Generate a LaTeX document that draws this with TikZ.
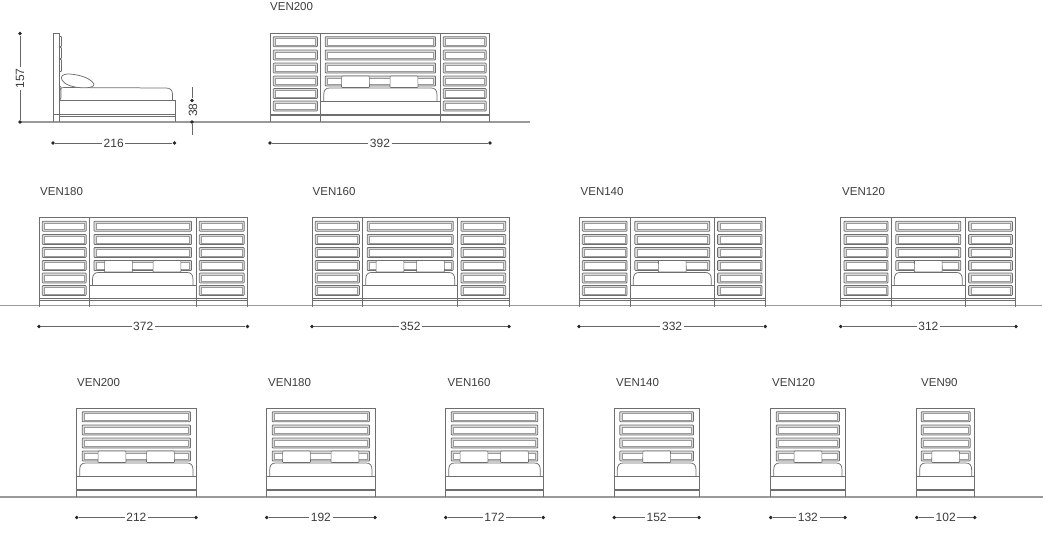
\documentclass[tikz,border=0pt]{standalone}
\usepackage{fontspec}
\setmainfont{Liberation Sans}
\definecolor{ln}{HTML}{6E6E6E}
\definecolor{lnl}{HTML}{9A9A9A}
\definecolor{txt}{HTML}{3C3C3C}
\tikzset{
  frameline/.style={draw=ln,line width=0.75pt},
  groundline/.style={draw=lnl,line width=1.2pt},
  slatout/.style={draw=ln,line width=0.8pt,rounded corners=0.8pt,fill=black!14},
  slatin/.style={draw=lnl,line width=0.4pt,fill=white},
  pillowbox/.style={draw=ln,line width=0.6pt,fill=white,rounded corners=0.8pt},
  dimdot/.style={circle,fill=black!85,inner sep=0pt,minimum size=3.8pt},
  dimtext/.style={fill=white,inner sep=1.5pt,font=\fontsize{12}{13}\selectfont,text=txt},
  dimrule/.style={draw=black!60,line width=0.8pt},
  modeltext/.style={anchor=west,inner sep=0pt,font=\fontsize{11.5}{13}\selectfont,text=txt},
}
\newcommand\vbSlat[4]{%
  \draw[slatout] (#1,#2) rectangle (#3,#4);
  \draw[slatin] ({#1+2.2},{#2+1.8}) rectangle ({#3-2.2},{#4-1.8});
}
\newcommand\vbPanel[3]{%
  \foreach \o in {3.7,17,30,43,55.5,68}{%
    \vbSlat{#1+3.3}{#3+\o}{#2-3.3}{#3+\o+10}
  }
}
% xl xr top slatinset pillow-centres(list)
\newcommand\vbCentre[5]{%
  \foreach \o in {3.7,17,30,43}{%
    \vbSlat{#1+#4}{#3+\o}{#2-#4}{#3+\o+10}
  }
  \foreach \p in {#5}{%
    \draw[pillowbox] ({\p-13.8},{#3+43}) -- ({\p+13.8},{#3+43}) -- ({\p+14},{#3+54.5}) -- ({\p-14},{#3+54.5}) -- cycle;
  }
  \draw[frameline,fill=white] ({#1+3},{#3+68}) -- ({#1+3},{#3+62}) .. controls ({#1+3},{#3+57}) and ({#1+5},{#3+55}) .. ({#1+9},{#3+55}) -- ({#2-9},{#3+55}) .. controls ({#2-5},{#3+55}) and ({#2-3},{#3+57}) .. ({#2-3},{#3+62}) -- ({#2-3},{#3+68});
  \draw[frameline] (#1,{#3+68}) -- (#2,{#3+68});
}
% x0 x1 top : outer frame with base
\newcommand\vbFrame[3]{%
  \draw[frameline] (#1,{#3+89}) -- (#1,#3) -- (#2,#3) -- (#2,{#3+89});
  \draw[frameline] (#1,{#3+81}) -- (#2,{#3+81});
  \draw[frameline] (#1,{#3+82.6}) -- (#2,{#3+82.6});
}
\newcommand\vbDivider[2]{%
  \draw[frameline,line width=1pt] (#1,#2) -- (#1,{#2+89});
}
% name x0 x1 y text
\newcommand\vbDim[5]{%
  \node[dimdot] (#1a) at (#2,#4) {};
  \node[dimdot] (#1b) at (#3,#4) {};
  \node[dimtext] (#1t) at ({(#2+#3)/2},#4) {#5};
  \draw[dimrule] (#1a) -- (#1t);
  \draw[dimrule] (#1t) -- (#1b);
}
\newcommand\vbWide[8]{% name x0 x1 x2 x3 top label pillows
  \vbFrame{#2}{#5}{#6}
  \vbDivider{#3}{#6}
  \vbDivider{#4}{#6}
  \vbPanel{#2}{#3}{#6}
  \vbPanel{#4}{#5}{#6}
  \vbCentre{#3}{#4}{#6}{4.5}{#8}
}
\begin{document}
\begin{tikzpicture}[x=1pt,y=-1pt]
\useasboundingbox (0,0) rectangle (1055,536);

% ground lines
\coordinate (g1a) at (19,122); \coordinate (g1b) at (530,122);
\coordinate (g2a) at (0,305.5); \coordinate (g2b) at (1042,305.5);
\coordinate (g3a) at (0,497); \coordinate (g3b) at (1043,497);
\draw[groundline] (g1a) -- (g1b);
\draw[groundline] (g2a) -- (g2b);
\draw[groundline] (g3a) -- (g3b);

% side view
\draw[frameline] (53,122) -- (53,33.5) -- (59.5,33.5) -- (59.5,122);
\draw[frameline] (53,114) -- (59.5,114);
\draw[frameline] (59.5,36) -- (61.5,37) -- (61.5,46) -- (59.5,47) -- (61.5,48) -- (61.5,58) -- (59.5,59) -- (61.5,60) -- (61.5,71) -- (59.5,72);
\draw[frameline] (59.5,86) -- (61,87) -- (61,98) -- (59.5,100);
\draw[frameline] (60,100) -- (60,90) .. controls (60,88) and (62,87.5) .. (64,87.5) -- (166,88) .. controls (170,88) and (172.5,90) .. (172.5,94) -- (172.5,100);
\draw[frameline] (60,100) -- (175,100) -- (175,122);
\draw[frameline] (59.5,114) -- (175,114);
\draw[frameline] (59.5,116) -- (175,116);
\draw[frameline,fill=white] (62,76) .. controls (64,73.5) and (70,73.5) .. (77,75) .. controls (85,76.5) and (92,80) .. (94,84) .. controls (94,87) and (90,87.8) .. (84,87.8) .. controls (72,87.8) and (64,84) .. (62,80) .. controls (61.3,78.5) and (61.3,77) .. (62,76) -- cycle;

% side-view dimensions
\node[dimdot] (h1) at (20,33.5) {};
\node[dimdot] (h2) at (20,122) {};
\node[dimtext,rotate=90] (h3) at (20,78.5) {157};
\draw[dimrule] (h1) -- (h3);
\draw[dimrule] (h3) -- (h2);
\coordinate (k0) at (192,87);
\coordinate (k4) at (192,135);
\node[dimdot] (k1) at (192,100.5) {};
\node[dimdot] (k2) at (192,122) {};
\node[dimtext,rotate=90,fill=none] (k3) at (193,110) {38};
\draw[dimrule] (k0) -- (k1);
\draw[dimrule] (k2) -- (k4);
\vbDim{s}{53}{174.5}{143}{216}

% row 1
\node[modeltext] (m1) at (270,6.5) {VEN200};
\vbWide{r1}{270}{320.7}{440}{489.5}{33}{}{355.5,404}
\vbDim{d1}{270}{490}{143}{392}

% row 2
\node[modeltext] (m2) at (40,191.5) {VEN180};
\vbWide{a}{39}{89.5}{196}{247.5}{217.5}{}{118.5,167}
\vbDim{d2}{39}{247.5}{326.5}{372}
\node[modeltext] (m3) at (312.5,191.5) {VEN160};
\vbWide{b}{312}{362.7}{457.7}{509}{217.5}{}{390,430.5}
\vbDim{d3}{312}{509}{326.5}{352}
\node[modeltext] (m4) at (580.5,191.5) {VEN140};
\vbWide{c}{579}{630.3}{714.3}{765.3}{217.5}{}{672.3}
\vbDim{d4}{579}{765.3}{326.5}{332}
\node[modeltext] (m5) at (842,191.5) {VEN120};
\vbWide{e}{840.7}{891.3}{965.3}{1015.7}{217.5}{}{928.3}
\vbDim{d5}{840.7}{1016}{326.5}{312}

% row 3
\foreach \xa/\xb/\pl in {76.7/196/{112,160.5},266.7/375/{296.5,345},445.7/543.3/{474,514.5},614.3/699/{656.7},770.7/845/{808},916.7/974.7/{945.7}}{%
  \vbFrame{\xa}{\xb}{408}
  \pgfmathsetmacro\ins{\xb-\xa>60?5.5:4.5}
  \edef\tmp{\noexpand\vbCentre{\xa}{\xb}{408}{\ins}{\pl}}\tmp
}
\node[modeltext] (n1) at (77,382.5) {VEN200};
\vbDim{f1}{76.7}{196}{517.5}{212}
\node[modeltext] (n2) at (268,382.5) {VEN180};
\vbDim{f2}{266.7}{375}{517.5}{192}
\node[modeltext] (n3) at (447.5,382.5) {VEN160};
\vbDim{f3}{445.7}{543.3}{517.5}{172}
\node[modeltext] (n4) at (616,382.5) {VEN140};
\vbDim{f4}{614.3}{699}{517.5}{152}
\node[modeltext] (n5) at (772,382.5) {VEN120};
\vbDim{f5}{770.7}{845}{517.5}{132}
\node[modeltext] (n6) at (921,382.5) {VEN90};
\vbDim{f6}{916.7}{974.7}{517.5}{102}
\end{tikzpicture}
\end{document}
